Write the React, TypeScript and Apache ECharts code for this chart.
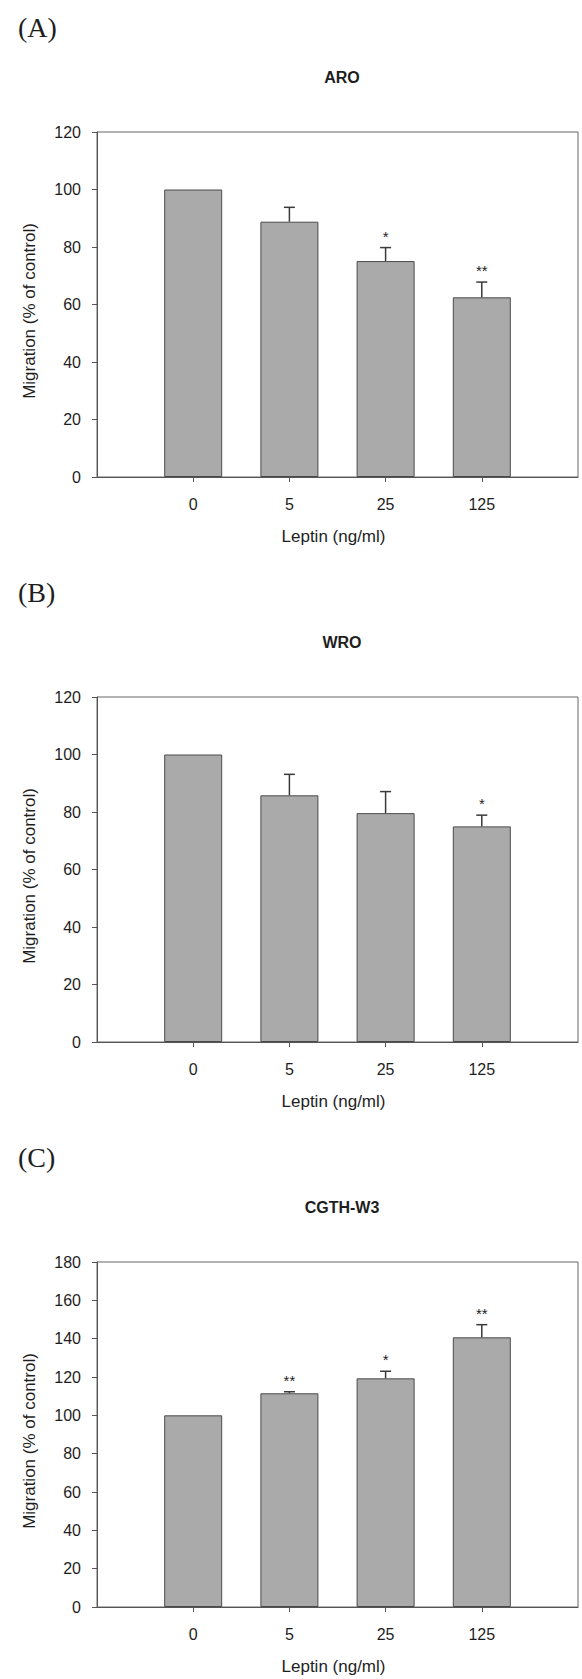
import React, { useEffect, useRef } from "react";
import * as echarts from "echarts";

// ---- data ----
const doseLabels = ["0", "5", "25", "125"];
const dosePositions = [1, 2, 3, 4];

const panelLetters = ["(A)", "(B)", "(C)"];
const cellLines = ["ARO", "WRO", "CGTH-W3"];

const aroMean = [100, 88.8, 75.1, 62.5];
const aroErr = [0, 5.0, 4.7, 5.3];
const aroSig = ["", "", "*", "**"];

const wroMean = [100, 85.8, 79.6, 75.0];
const wroErr = [0, 7.3, 7.5, 3.9];
const wroSig = ["", "", "", "*"];

const cgthMean = [100, 111.5, 119.3, 140.7];
const cgthErr = [0, 0.8, 3.7, 6.6];
const cgthSig = ["", "**", "*", "**"];

const yMaxes = [120, 120, 180];
const yInterval = 20;

const xAxisName = "Leptin (ng/ml)";
const yAxisName = "Migration (% of control)";

// ---- layout ----
const W = 582;
const H = 1679;
const GRID_LEFT = 97;
const GRID_WIDTH = 481;
const GRID_HEIGHT = 345;
const PANEL_STEP = 565;
const FIRST_TOP = 132;

const SANS = "'Liberation Sans', Arial, Helvetica, sans-serif";
const SERIF = "'Liberation Serif', 'Times New Roman', serif";
const TEXT = "#1e1e1e";
const AXIS = "#555";

export default function App() {
  const ref = useRef<HTMLDivElement>(null);

  useEffect(() => {
    if (!ref.current) return;
    const chart = echarts.init(ref.current, null, { renderer: "svg" });

    const means = [aroMean, wroMean, cgthMean];
    const errs = [aroErr, wroErr, cgthErr];
    const sigs = [aroSig, wroSig, cgthSig];

    const grids: any[] = [];
    const xAxes: any[] = [];
    const yAxes: any[] = [];
    const series: any[] = [];
    const titles: any[] = [];

    for (let p = 0; p < 3; p++) {
      const top = FIRST_TOP + p * PANEL_STEP;
      grids.push({
        left: GRID_LEFT,
        top,
        width: GRID_WIDTH,
        height: GRID_HEIGHT,
        show: true,
        borderColor: "#666",
        borderWidth: 1,
        backgroundColor: "transparent",
      });
      xAxes.push({
        type: "value",
        gridIndex: p,
        min: 0,
        max: 5,
        interval: 1,
        splitLine: { show: false },
        axisLine: { show: true, lineStyle: { color: AXIS, width: 1 } },
        axisTick: {
          show: true,
          inside: false,
          length: 5,
          customValues: dosePositions,
          lineStyle: { color: AXIS },
        },
        axisLabel: {
          show: true,
          customValues: dosePositions,
          margin: 19,
          color: TEXT,
          fontFamily: SANS,
          fontSize: 16,
          formatter: (v: number) => {
            const i = dosePositions.indexOf(Math.round(v));
            return i >= 0 ? doseLabels[i] : "";
          },
        },
        name: xAxisName,
        nameLocation: "middle",
        nameGap: 51,
        nameTextStyle: {
          color: TEXT,
          fontFamily: SANS,
          fontSize: 17,
          padding: [0, 8, 0, 0],
        },
      });
      yAxes.push({
        type: "value",
        gridIndex: p,
        min: 0,
        max: yMaxes[p],
        interval: yInterval,
        splitLine: { show: false },
        axisLine: { show: true, lineStyle: { color: AXIS, width: 1 } },
        axisTick: { show: true, inside: false, length: 5, lineStyle: { color: AXIS } },
        axisLabel: {
          margin: 16,
          color: TEXT,
          fontFamily: SANS,
          fontSize: 16,
        },
        name: yAxisName,
        nameLocation: "middle",
        nameGap: 59,
        nameTextStyle: {
          color: TEXT,
          fontFamily: SANS,
          fontSize: 17,
          padding: [0, 13, 0, 0],
        },
      });

      series.push({
        type: "bar",
        xAxisIndex: p,
        yAxisIndex: p,
        barWidth: 58,
        itemStyle: { color: "#aaaaaa", borderColor: "#4a4a4a", borderWidth: 1 },
        data: dosePositions.map((x, i) => [x, means[p][i]]),
        z: 2,
      });

      const sigArr = sigs[p];
      series.push({
        type: "custom",
        xAxisIndex: p,
        yAxisIndex: p,
        z: 3,
        data: dosePositions.map((x, i) => [x, means[p][i], errs[p][i]]),
        renderItem: (params: any, api: any) => {
          const x = api.value(0);
          const v = api.value(1);
          const e = api.value(2);
          const p0 = api.coord([x, v]);
          const p1 = api.coord([x, v + e]);
          const children: any[] = [];
          const lineStyle = { stroke: "#3a3a3a", lineWidth: 1.5 };
          if (e > 0) {
            children.push({
              type: "line",
              shape: { x1: p0[0], y1: p0[1], x2: p1[0], y2: p1[1] },
              style: lineStyle,
            });
            children.push({
              type: "line",
              shape: { x1: p1[0] - 5.5, y1: p1[1], x2: p1[0] + 5.5, y2: p1[1] },
              style: lineStyle,
            });
          }
          const s = sigArr[params.dataIndex];
          if (s) {
            children.push({
              type: "text",
              x: p1[0],
              y: p1[1] - 11.5,
              style: {
                text: s,
                fill: TEXT,
                font: `15px ${SANS}`,
                align: "center",
                verticalAlign: "middle",
              },
            });
          }
          return { type: "group", children };
        },
      });

      titles.push({
        text: cellLines[p],
        left: 337,
        top: 64 + p * PANEL_STEP,
        textAlign: "center",
        textStyle: { fontFamily: SANS, fontSize: 16, fontWeight: "bold", color: TEXT },
      });
      titles.push({
        text: panelLetters[p],
        left: 13,
        top: 8 + p * PANEL_STEP,
        textStyle: { fontFamily: SERIF, fontSize: 28, fontWeight: "normal", color: TEXT },
      });
    }

    chart.setOption({
      animation: false,
      backgroundColor: "#ffffff",
      title: titles,
      grid: grids,
      xAxis: xAxes,
      yAxis: yAxes,
      series,
    });

    return () => chart.dispose();
  }, []);

  return (
    <div
      ref={ref}
      style={{ position: "absolute", left: 0, top: 0, width: W, height: H }}
    />
  );
}
